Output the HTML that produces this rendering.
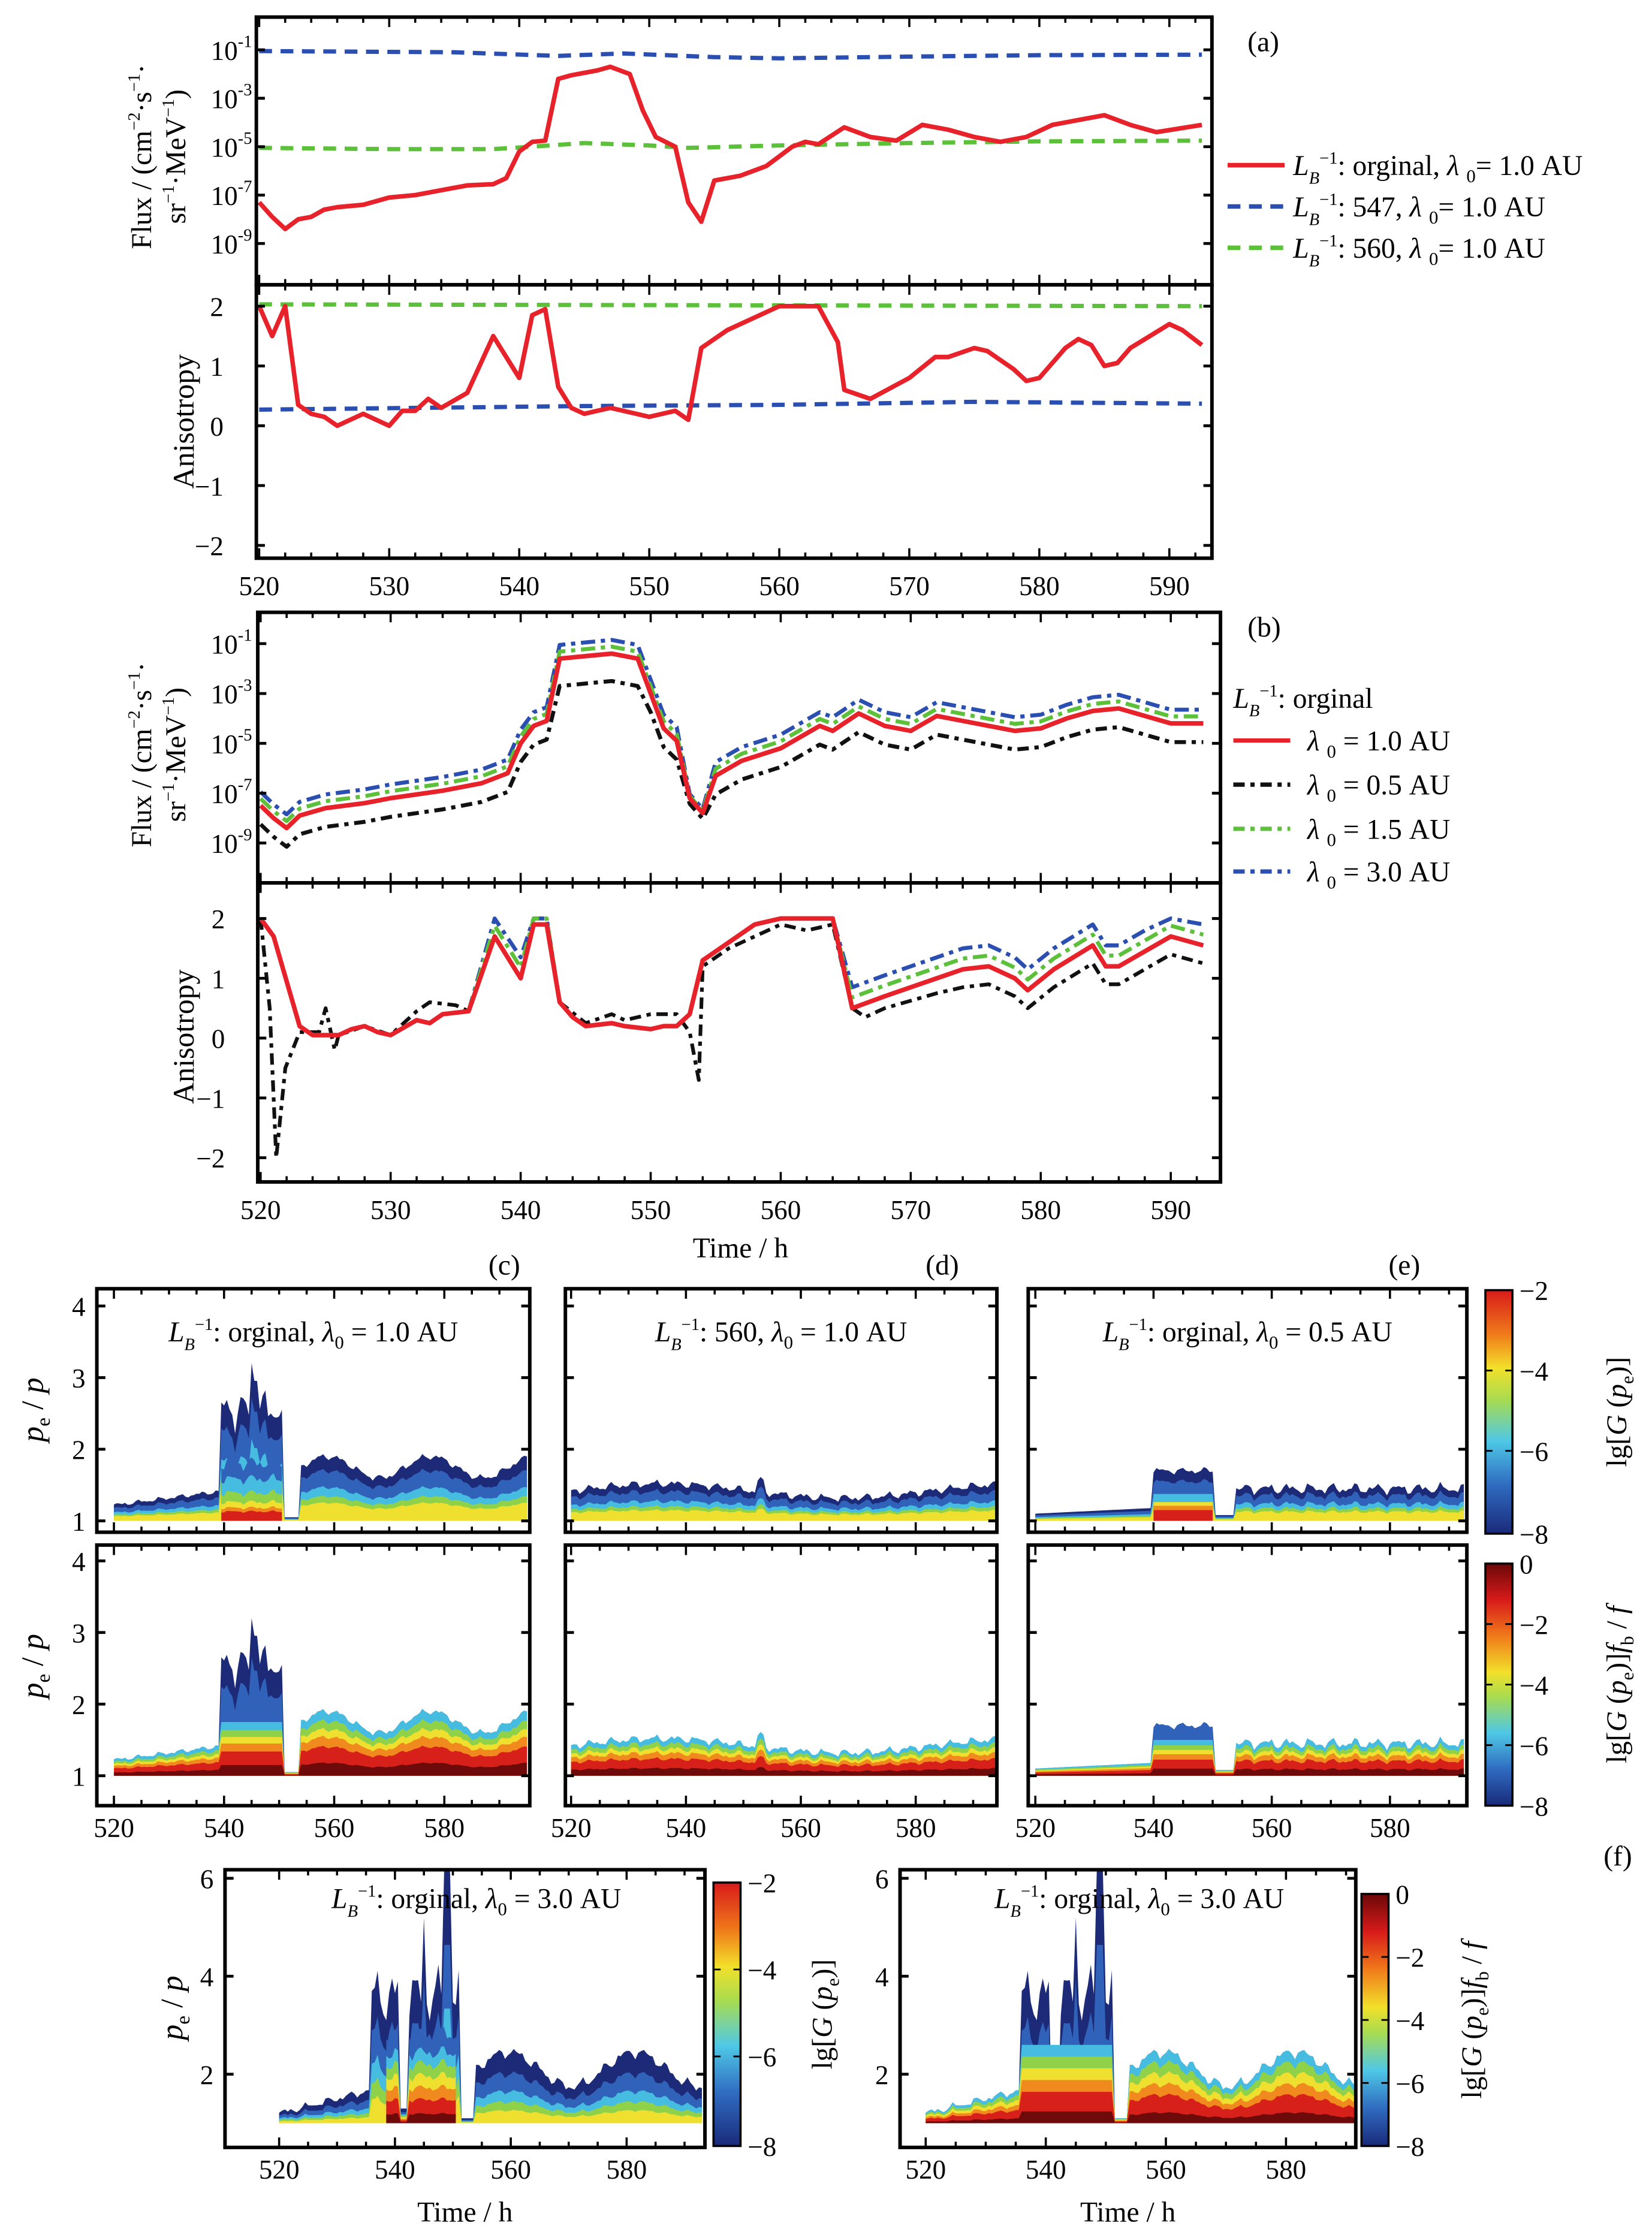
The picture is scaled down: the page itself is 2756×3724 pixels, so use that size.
<!DOCTYPE html>
<html><head><meta charset="utf-8">
<style>html,body{margin:0;padding:0;background:#fff}svg{display:block}
text{font-family:"Liberation Serif",serif;fill:#000}</style></head>
<body>
<svg id="s" width="2756" height="3724" viewBox="0 0 1160 1567.4" preserveAspectRatio="none" xmlns="http://www.w3.org/2000/svg">
<defs>
<linearGradient id="cb1" x1="0" y1="1" x2="0" y2="0">
<stop offset="0" stop-color="#1a2a7a"/><stop offset="0.2" stop-color="#2f6bc0"/><stop offset="0.38" stop-color="#4fc8e6"/><stop offset="0.55" stop-color="#a8dc50"/><stop offset="0.68" stop-color="#f2e02a"/><stop offset="0.82" stop-color="#f07a1a"/><stop offset="1" stop-color="#d81a1a"/></linearGradient>
<linearGradient id="cb2" x1="0" y1="1" x2="0" y2="0">
<stop offset="0" stop-color="#1a2a7a"/><stop offset="0.15" stop-color="#2f6bc0"/><stop offset="0.3" stop-color="#4fc8e6"/><stop offset="0.45" stop-color="#a8dc50"/><stop offset="0.55" stop-color="#f2e02a"/><stop offset="0.7" stop-color="#f07a1a"/><stop offset="0.85" stop-color="#d81a1a"/><stop offset="1" stop-color="#6b0808"/></linearGradient>
</defs>
<g id="g"></g>
</svg>
<script>
const G=document.getElementById('g');let out='';
function P(pts){return pts.map((p,i)=>(i?'L':'M')+p[0].toFixed(2)+' '+p[1].toFixed(2)).join('');}
function line(pts,c,w,d){out+=`<path d="${P(pts)}" fill="none" stroke="${c}" stroke-width="${w}" ${d?'stroke-dasharray="'+d+'"':''} stroke-linejoin="round"/>`;}
function T(x,y,s,sz,extra){out+=`<text x="${x}" y="${y}" font-size="${sz||18}" ${extra||''}>${s}</text>`;}
function box(x0,y0,x1,y1,w){out+=`<rect x="${x0}" y="${y0}" width="${x1-x0}" height="${y1-y0}" fill="none" stroke="#000" stroke-width="${w||2.5}"/>`;}
function ticksX(X,y0,y1,lab,ly){for(let t=520;t<=592;t+=2){const x=X(t);const L=(t%10==0)?7:4;out+=`<path d="M${x} ${y1}v-${L}M${x} ${y0}v${L}" stroke="#000" stroke-width="1.5"/>`;}if(lab)for(let t=520;t<=590;t+=10)T(X(t),ly,t,19,'text-anchor="middle"');}
// ---------- data
const redF=[[520,-7.3],[521,-7.9],[522,-8.4],[523,-8],[524,-7.9],[525,-7.6],[526,-7.5],[528,-7.4],[530,-7.1],[532,-7],[534,-6.8],[536,-6.6],[538,-6.55],[539,-6.3],[540,-5.2],[541,-4.8],[542,-4.75],[543,-2.2],[544,-2.05],[546,-1.85],[547,-1.7],[548.5,-2],[549.5,-3.5],[550.5,-4.6],[552,-5],[553,-7.3],[554,-8.1],[555,-6.4],[557,-6.2],[559,-5.8],[561,-5],[562,-4.8],[563,-4.9],[565,-4.2],[567,-4.6],[569,-4.75],[571,-4.1],[573,-4.3],[575,-4.6],[577,-4.8],[579,-4.6],[581,-4.1],[583,-3.9],[585,-3.7],[587,-4.1],[589,-4.4],[592.5,-4.1]];
const blueF=[[520,-1.05],[535,-1.1],[543,-1.25],[548,-1.15],[555,-1.3],[560,-1.35],[570,-1.28],[580,-1.22],[592.5,-1.2]];
const greenF=[[520,-5.05],[530,-5.1],[538,-5.1],[541,-5],[545,-4.85],[550,-4.95],[553,-5.05],[560,-4.95],[570,-4.85],[580,-4.78],[592.5,-4.75]];
const redA=[[520,2.0],[521,1.5],[522,2.0],[523,0.35],[524,0.2],[525,0.15],[526,0.0],[528,0.2],[530,0.0],[531,0.25],[532,0.25],[533,0.45],[534,0.3],[536,0.55],[538,1.5],[540,0.8],[541,1.85],[542,1.95],[543,0.65],[544,0.3],[545,0.2],[547,0.3],[549,0.2],[550,0.15],[552,0.25],[553,0.1],[554,1.3],[556,1.6],[558,1.8],[560,2.0],[563,2.0],[564.5,1.4],[565,0.6],[567,0.45],[570,0.8],[572,1.15],[573,1.15],[575,1.3],[576,1.25],[578,0.95],[579,0.75],[580,0.8],[582,1.3],[583,1.45],[584,1.35],[585,1.0],[586,1.05],[587,1.3],[590,1.7],[591,1.6],[592.5,1.35]];
// ---------- panel a
{const X=t=>182+(t-520)*9.13;const Yf=v=>35+(-1-v)*17;const Ya=v=>299-v*42;
line(blueF.map(d=>[X(d[0]),Yf(d[1])]),'#2a4fb0',3,'9 6');
line(greenF.map(d=>[X(d[0]),Yf(d[1])]),'#5cc03a',3,'9 6');
line(redF.map(d=>[X(d[0]),Yf(d[1])]),'#e8222a',3.2);
line([[X(520),Ya(2.03)],[X(592.5),Ya(2.0)]],'#5cc03a',3,'9 6');
line([[X(520),Ya(0.27)],[X(545),Ya(0.33)],[X(560),Ya(0.35)],[X(575),Ya(0.4)],[X(592.5),Ya(0.37)]],'#2a4fb0',3,'9 6');
line(redA.map(d=>[X(d[0]),Ya(d[1])]),'#e8222a',3.2);
box(180,12,851,200);box(180,200,851,392);
ticksX(X,12,200,false);ticksX(X,200,392,true,418);
[-1,-3,-5,-7,-9].forEach(v=>{T(148,Yf(v)+7,'10<tspan font-size="12" dy="-9">'+v+'</tspan>',19);out+=`<path d="M180 ${Yf(v)}h6M851 ${Yf(v)}h-6" stroke="#000" stroke-width="2"/>`;});
[2,1,0,-1,-2].forEach(v=>{T(157,Ya(v)+7,v<0?'−'+(-v):v,19,'text-anchor="end"');out+=`<path d="M180 ${Ya(v)}h6M851 ${Ya(v)}h-6" stroke="#000" stroke-width="2"/>`;});
out+=`<text transform="translate(106,110) rotate(-90)" font-size="20" text-anchor="middle">Flux / (cm<tspan font-size="12" dy="-8">−2</tspan><tspan dy="8">·s</tspan><tspan font-size="12" dy="-8">−1</tspan><tspan dy="8">·</tspan></text>`;
out+=`<text transform="translate(130,110) rotate(-90)" font-size="20" text-anchor="middle">sr<tspan font-size="12" dy="-8">−1</tspan><tspan dy="8">·MeV</tspan><tspan font-size="12" dy="-8">−1</tspan><tspan dy="8">)</tspan></text>`;
out+=`<text transform="translate(136,296) rotate(-90)" font-size="21" text-anchor="middle">Anisotropy</text>`;
T(876,36,'(a)',20);
const lg=(y,c,d,s)=>{line([[862,y],[902,y]],c,3.2,d);T(908,y+7,'<tspan font-style="italic">L</tspan><tspan font-size="12" dy="6" font-style="italic">B</tspan><tspan font-size="12" dy="-14">−1</tspan><tspan dy="8">'+s+'</tspan>',20);};
lg(116,'#e8222a',null,': orginal, <tspan font-style="italic">λ</tspan> <tspan font-size="13" dy="5">0</tspan><tspan dy="-5">= 1.0 AU</tspan>');
lg(145,'#2a4fb0','9 6',': 547, <tspan font-style="italic">λ</tspan> <tspan font-size="13" dy="5">0</tspan><tspan dy="-5">= 1.0 AU</tspan>');
lg(174,'#5cc03a','9 6',': 560, <tspan font-style="italic">λ</tspan> <tspan font-size="13" dy="5">0</tspan><tspan dy="-5">= 1.0 AU</tspan>');
}
// ---------- panel b
{const X=t=>183+(t-520)*9.13;const Yf=v=>452+(-1-v)*17.5;const Ya=v=>729-v*42;
const rb=[[520,-7.5],[521,-8],[522,-8.4],[523,-7.9],[525,-7.6],[528,-7.4],[530,-7.2],[534,-6.9],[537,-6.6],[539,-6.2],[540,-5],[541,-4.3],[542,-4.1],[543,-1.6],[545,-1.5],[547,-1.4],[549,-1.6],[550,-3],[551,-4.4],[552,-4.9],[553,-7.2],[554,-7.8],[555,-6.3],[557,-5.7],[560,-5.2],[562,-4.6],[563,-4.3],[564,-4.5],[566,-3.8],[568,-4.3],[570,-4.5],[572,-3.9],[574,-4.1],[576,-4.3],[578,-4.5],[580,-4.4],[582,-4],[584,-3.7],[586,-3.6],[588,-3.9],[590,-4.2],[592.5,-4.2]];
const ser=[[0.55,'#2a4fb0','10 4 3 4'],[0.28,'#5cc03a','10 4 3 4'],[-0.75,'#111','8 4 3 4']];
ser.forEach(s=>{line(rb.map(d=>{let o=s[0];if(s[0]<0&&d[0]>=543&&d[0]<=549)o=-1.1;if(d[0]>=553&&d[0]<=554)o=s[0]*0.3;return[X(d[0]),Yf(d[1]+o)];}),s[1],2.8,s[2]);});
line(rb.map(d=>[X(d[0]),Yf(d[1])]),'#e8222a',3.2);
const ra=[[520,2],[521,1.7],[523,0.2],[524,0.05],[526,0.05],[527,0.15],[528,0.2],[529,0.1],[530,0.05],[532,0.3],[533,0.25],[534,0.4],[536,0.45],[538,1.7],[540,1.0],[541,1.9],[542,1.9],[543,0.6],[544,0.35],[545,0.2],[547,0.25],[548,0.2],[550,0.15],[551,0.2],[552,0.2],[553,0.4],[554,1.3],[556,1.6],[558,1.9],[559,1.95],[560,2.0],[564,2.0],[565.5,0.5],[568,0.7],[572,1.0],[574,1.15],[576,1.2],[578,1.0],[579,0.8],[581,1.15],[584,1.55],[585,1.2],[586,1.2],[588,1.45],[590,1.7],[592.5,1.55]];
const sa=[[0.35,'#2a4fb0','10 4 3 4'],[0.18,'#5cc03a','10 4 3 4']];
sa.forEach(s=>line(ra.map(d=>{let o=(d[0]>565||(d[0]>=538&&d[0]<=542))?s[0]:0;return[X(d[0]),Ya(Math.min(2,d[1]+o))];}),s[1],2.8,s[2]));
const kc=[[520,2],[520.7,0.5],[521.2,-2],[521.9,-0.5],[523,0.1],[524.5,0.1],[525,0.5],[525.7,-0.2],[526,0.05],[528,0.2],[530,0.05],[532,0.45],[533,0.6],[535,0.55],[536,0.45],[538,1.7],[540,1.0],[541,1.9],[542,1.9],[543,0.6],[545,0.25],[547,0.4],[548,0.3],[550,0.4],[552,0.4],[553,0.1],[553.7,-0.7],[554,1.2],[556,1.5],[558,1.7],[560,1.9],[562,1.8],[564,1.9],[565.5,0.5],[566.5,0.35],[568,0.5],[572,0.75],[574,0.85],[576,0.9],[578,0.7],[579,0.5],[581,0.85],[584,1.25],[585,0.9],[586,0.9],[588,1.15],[590,1.4],[592.5,1.25]];
line(kc.map(d=>[X(d[0]),Ya(d[1])]),'#111',2.6,'8 4 3 4');
line(ra.map(d=>[X(d[0]),Ya(d[1])]),'#e8222a',3.2);
box(181,430,857,620);box(181,620,857,830);
ticksX(X,430,620,false);ticksX(X,620,830,true,856);
[-1,-3,-5,-7,-9].forEach(v=>{T(148,Yf(v)+7,'10<tspan font-size="12" dy="-9">'+v+'</tspan>',19);out+=`<path d="M181 ${Yf(v)}h6M857 ${Yf(v)}h-6" stroke="#000" stroke-width="2"/>`;});
[2,1,0,-1,-2].forEach(v=>{T(158,Ya(v)+7,v<0?'−'+(-v):v,19,'text-anchor="end"');out+=`<path d="M181 ${Ya(v)}h6M857 ${Ya(v)}h-6" stroke="#000" stroke-width="2"/>`;});
out+=`<text transform="translate(106,530) rotate(-90)" font-size="20" text-anchor="middle">Flux / (cm<tspan font-size="12" dy="-8">−2</tspan><tspan dy="8">·s</tspan><tspan font-size="12" dy="-8">−1</tspan><tspan dy="8">·</tspan></text>`;
out+=`<text transform="translate(130,530) rotate(-90)" font-size="20" text-anchor="middle">sr<tspan font-size="12" dy="-8">−1</tspan><tspan dy="8">·MeV</tspan><tspan font-size="12" dy="-8">−1</tspan><tspan dy="8">)</tspan></text>`;
out+=`<text transform="translate(136,728) rotate(-90)" font-size="21" text-anchor="middle">Anisotropy</text>`;
T(520,883,'Time / h',20,'text-anchor="middle"');T(876,447,'(b)',20);
T(866,497,'<tspan font-style="italic">L</tspan><tspan font-size="12" dy="6" font-style="italic">B</tspan><tspan font-size="12" dy="-14">−1</tspan><tspan dy="8">: orginal</tspan>',20);
const lb=(y,c,d,s)=>{line([[866,y],[906,y]],c,3,d);T(918,y+7,'<tspan font-style="italic">λ</tspan> <tspan font-size="13" dy="5">0</tspan><tspan dy="-5"> = '+s+' AU</tspan>',20);};
lb(520,'#e8222a',null,'1.0');lb(551,'#111','8 4 3 4','0.5');lb(582,'#5cc03a','8 4 3 4','1.5');lb(612,'#2a4fb0','8 4 3 4','3.0');
}
// ---------- contour panels
const C={navy:'#1c2a78',blue:'#2f62b8',cyan:'#46bde0',green:'#8fd24a',yellow:'#efe030',orange:'#f08a1e',red:'#d8201a',dred:'#6e0a0a'};
function nz(t,k){return 0.5*Math.sin(t*1.7+k)+0.3*Math.sin(t*3.1+2*k)+0.2*Math.sin(t*5.3+k*3);}
function band(X,Y,h,frac,col,t0,t1){const up=[],dn=[];for(let t=t0;t<=t1+1e-9;t+=0.5){const hv=h(t);up.push([X(t),Y(1+(hv-1)*frac)]);dn.push([X(t),Y(1)]);}out+=`<path d="${P(up.concat(dn.reverse()))}Z" fill="${col}"/>`;}
function panelG(X,Y,h,layers,t1,t0){layers.forEach(l=>band(X,Y,l.h||h,l.f,l.c,t0||520,t1||592.5));}
function axes(x0,y0,x1,y1,X,Y,yt,xl,ly,ylab){box(x0,y0,x1,y1,2.5);yt.forEach(v=>{out+=`<path d="M${x0} ${Y(v)}h6M${x1} ${Y(v)}h-6" stroke="#000" stroke-width="2"/>`;if(ylab)T(x0-8,Y(v)+7,v,19,'text-anchor="end"');});
for(let t=520;t<=592;t+=5){const x=X(t);out+=`<path d="M${x} ${y1}v-${t%20==0?7:4}M${x} ${y0}v${t%20==0?7:4}" stroke="#000" stroke-width="1.5"/>`;}
if(xl)for(let t=520;t<=580;t+=20)T(X(t),ly,t,19,'text-anchor="middle"');}
const hc=t=>{if(t>=539.5&&t<=550.5)return 2.55+0.35*nz(t,1)+(Math.abs(t-545.5)<0.8?0.6:0);if(t<539.5)return 1.22+(t-520)*0.01+0.04*nz(t,2);if(t<554)return 1.05;return 1.75+0.15*Math.sin((t-554)/3)+0.06*nz(t,3);};
const hd=t=>1.42+0.1*Math.sin((t-520)/10)+0.07*nz(t,4)+(Math.abs(t-553)<1?0.15:0);
const he=t=>{if(t>=540&&t<=550)return 1.7+0.06*nz(t,5);if(t<540)return 1.1+(t-520)*0.004;if(t<554)return 1.08;return 1.45+0.1*nz(t,6);};
const Gl=[{f:1,c:C.navy},{f:0.78,c:C.blue},{f:0.52,c:C.cyan},{f:0.38,c:C.green},{f:0.28,c:C.yellow}];
const Fl=[{f:1,c:C.cyan},{f:0.85,c:C.green},{f:0.72,c:C.yellow},{f:0.6,c:C.orange},{f:0.45,c:C.red},{f:0.2,c:C.dred}];
function cdeRow(x0,x1,xa,xb,top){const X=t=>xa+(t-520)*(xb-xa)/60;let y0,y1,Y;
if(top){y0=905;y1=1076;Y=v=>1068-(v-1)*50.3;}else{y0=1085;y1=1268;Y=v=>1247-(v-1)*50.3;}return{X,Y,y0,y1};}
const cols=[[68,372,80,312],[397,700,401,643],[722,1030,727,976]];
const hs=[hc,hd,he];
const pkG=[{f:0.62,c:C.blue},{f:0.45,c:C.cyan},{f:0.3,c:C.green},{f:0.2,c:C.yellow},{f:0.14,c:C.orange},{f:0.1,c:C.red}];
[true,false].forEach(top=>{cols.forEach((cc,i)=>{const r=cdeRow(cc[0],cc[1],cc[2],cc[3],top);const X=r.X,Y=r.Y;
const tEnd=519.9+(cc[1]-cc[2])/((cc[3]-cc[2])/60);
out+=`<clipPath id="cp${i}${top}"><rect x="${cc[0]}" y="${r.y0}" width="${cc[1]-cc[0]}" height="${r.y1-r.y0}"/></clipPath><g clip-path="url(#cp${i}${top})">`;
if(top){panelG(X,Y,hs[i],Gl,tEnd);
 if(i==0){const hp=t=>2.3+0.2*nz(t,11);panelG(X,Y,hp,pkG,550.5,539.5);}
 if(i==2){const hp=t=>1.75;panelG(X,Y,hp,[{f:0.7,c:C.blue},{f:0.5,c:C.cyan},{f:0.35,c:C.yellow},{f:0.28,c:C.orange},{f:0.2,c:C.red}],550,540);}}
else{const hb=t=>{let v=hs[i](t);if(i==0&&t>=539.5&&t<=550.5)return 1.75;if(i==2&&t>=540&&t<=550)return 1.5;return v;};
 if(i==0)panelG(X,Y,hc,[{f:1,c:C.navy},{f:0.75,c:C.blue}],tEnd);
 if(i==2)panelG(X,Y,he,[{f:1,c:C.blue}],tEnd);
 panelG(X,Y,hb,Fl,tEnd);}
out+=`</g>`;
const labs=['<tspan font-style="italic">L</tspan><tspan font-size="12" dy="6" font-style="italic">B</tspan><tspan font-size="12" dy="-14">−1</tspan><tspan dy="8">: orginal, </tspan><tspan font-style="italic">λ</tspan><tspan font-size="13" dy="5">0</tspan><tspan dy="-5"> = 1.0 AU</tspan>','<tspan font-style="italic">L</tspan><tspan font-size="12" dy="6" font-style="italic">B</tspan><tspan font-size="12" dy="-14">−1</tspan><tspan dy="8">: 560, </tspan><tspan font-style="italic">λ</tspan><tspan font-size="13" dy="5">0</tspan><tspan dy="-5"> = 1.0 AU</tspan>','<tspan font-style="italic">L</tspan><tspan font-size="12" dy="6" font-style="italic">B</tspan><tspan font-size="12" dy="-14">−1</tspan><tspan dy="8">: orginal, </tspan><tspan font-style="italic">λ</tspan><tspan font-size="13" dy="5">0</tspan><tspan dy="-5"> = 0.5 AU</tspan>'];
if(top)T((cc[0]+cc[1])/2,942,labs[i],20,'text-anchor="middle"');
axes(cc[0],r.y0,cc[1],r.y1,X,Y,[1,2,3,4],!top,1290,i==0);
});});
T(343,895,'(c)',20);T(650,895,'(d)',20);T(975,895,'(e)',20);T(1126,1310,'(f)',20);
[990,1170].forEach(y=>out+=`<text transform="translate(30,${y}) rotate(-90)" font-size="22" text-anchor="middle"><tspan font-style="italic">p</tspan><tspan font-size="14" dy="5">e</tspan><tspan dy="-5"> / </tspan><tspan font-style="italic">p</tspan></text>`);
// colorbars
function cbar(x,y0,y1,grad,ticks,lab,lx){out+=`<rect x="${x}" y="${y0}" width="19" height="${y1-y0}" fill="url(#${grad})" stroke="#000" stroke-width="1.5"/>`;ticks.forEach(t=>{const y=y0+(y1-y0)*t[1];T(x+24,y+7,t[0],19);out+=`<path d="M${x} ${y}h5M${x+19} ${y}h-5" stroke="#000" stroke-width="1.2"/>`;});out+=`<text transform="translate(${lx},${(y0+y1)/2}) rotate(-90)" font-size="20" text-anchor="middle">${lab}</text>`;}
const labG='lg[<tspan font-style="italic">G</tspan> (<tspan font-style="italic">p</tspan><tspan font-size="13" dy="5">e</tspan><tspan dy="-5">)]</tspan>';
const labF='lg[<tspan font-style="italic">G</tspan> (<tspan font-style="italic">p</tspan><tspan font-size="13" dy="5">e</tspan><tspan dy="-5">)]</tspan><tspan font-style="italic">f</tspan><tspan font-size="13" dy="5">b</tspan><tspan dy="-5"> / </tspan><tspan font-style="italic">f</tspan>';
cbar(1043,906,1077,'cb1',[['−2',0],['−4',0.33],['−6',0.66],['−8',1]],labG,1142);
cbar(1043,1098,1268,'cb2',[['0',0],['−2',0.25],['−4',0.5],['−6',0.75],['−8',1]],labF,1142);
// bottom f panels
function fpan(x0,x1,xa,xb,F){const y0=1313,y1=1508;const X=t=>xa+(t-520)*(xb-xa)/60;const Y=v=>1491-(v-1)*34.4;
const tEnd=519.9+(x1-xa)/((xb-xa)/60);
const h=t=>{if(t>=536&&t<=551){let v=3.6+0.7*nz(t,7);if(Math.abs(t-549)<0.6)v=6.2;if(Math.abs(t-545)<0.5)v=5.2;if(Math.abs(t-541.5)<0.6)v=1.3;return v;}if(t<536)return 1.2+(t-520)*0.03+0.1*nz(t,8);if(t<554)return 1.1;return 2.1+0.35*Math.sin((t-554)/3.5)+0.15*nz(t,9);};
out+=`<clipPath id="cf${x0}"><rect x="${x0}" y="${y0}" width="${x1-x0}" height="${y1-y0}"/></clipPath><g clip-path="url(#cf${x0})">`;
if(!F){panelG(X,Y,h,[{f:1,c:C.navy},{f:0.7,c:C.blue},{f:0.45,c:C.cyan},{f:0.3,c:C.green},{f:0.18,c:C.yellow}],tEnd);
 const hp=t=>(Math.abs(t-541.5)<0.6)?1.3:3.4+0.3*nz(t,12);panelG(X,Y,hp,[{f:0.75,c:C.blue},{f:0.6,c:C.cyan},{f:0.5,c:C.green},{f:0.4,c:C.yellow},{f:0.3,c:C.orange},{f:0.2,c:C.red},{f:0.08,c:C.dred}],550.5,538.5);}
else{panelG(X,Y,h,[{f:1,c:C.navy},{f:0.7,c:C.blue}],tEnd);const hb=t=>(t>=536&&t<=551)?2.6:h(t);panelG(X,Y,hb,[{f:1,c:C.cyan},{f:0.85,c:C.green},{f:0.7,c:C.yellow},{f:0.55,c:C.orange},{f:0.4,c:C.red},{f:0.15,c:C.dred}],tEnd);}
out+=`</g>`;
box(x0,y0,x1,y1,2.5);[2,4,6].forEach(v=>{out+=`<path d="M${x0} ${Y(v)}h6M${x1} ${Y(v)}h-6" stroke="#000" stroke-width="2"/>`;T(x0-8,Y(v)+7,v,19,'text-anchor="end"');});
for(let t=520;t<=592;t+=5){const x=X(t);out+=`<path d="M${x} ${y1}v-${t%20==0?7:4}M${x} ${y0}v${t%20==0?7:4}" stroke="#000" stroke-width="1.5"/>`;}
for(let t=520;t<=580;t+=20)T(X(t),1530,t,19,'text-anchor="middle"');
T((x0+x1)/2,1560,'Time / h',20,'text-anchor="middle"');
T((x0+x1)/2+8,1340,'<tspan font-style="italic">L</tspan><tspan font-size="12" dy="6" font-style="italic">B</tspan><tspan font-size="12" dy="-14">−1</tspan><tspan dy="8">: orginal, </tspan><tspan font-style="italic">λ</tspan><tspan font-size="13" dy="5">0</tspan><tspan dy="-5"> = 3.0 AU</tspan>',20,'text-anchor="middle"');}
fpan(158,495,196,440,false);fpan(632,952,650,903,true);
out+=`<text transform="translate(128,1410) rotate(-90)" font-size="22" text-anchor="middle"><tspan font-style="italic">p</tspan><tspan font-size="14" dy="5">e</tspan><tspan dy="-5"> / </tspan><tspan font-style="italic">p</tspan></text>`;
cbar(501,1322,1507,'cb1',[['−2',0],['−4',0.33],['−6',0.66],['−8',1]],labG,584);
cbar(956,1330,1507,'cb2',[['0',0],['−2',0.25],['−4',0.5],['−6',0.75],['−8',1]],labF,1040);
G.innerHTML=out;
</script>
</body></html>
